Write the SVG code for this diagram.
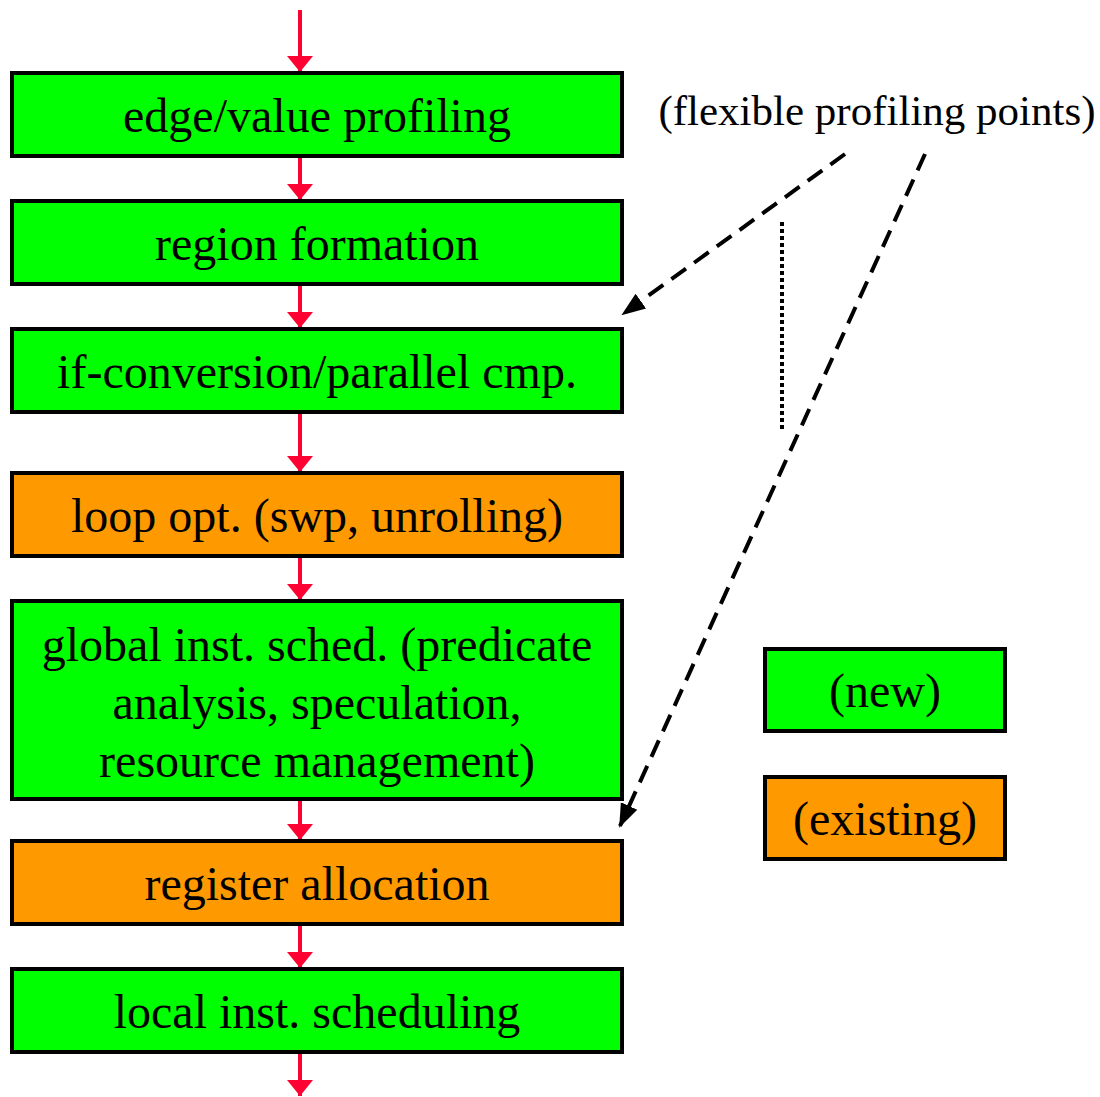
<svg xmlns="http://www.w3.org/2000/svg" width="1100" height="1097" viewBox="0 0 1100 1097">
  <defs>
    <marker id="redHead" markerWidth="16" markerHeight="26" refX="16" refY="13" orient="auto" markerUnits="userSpaceOnUse" viewBox="0 0 16 26">
      <path d="M0,0 L16,13 L0,26 Z" fill="#FF0033"/>
    </marker>
    <marker id="blackHead" markerWidth="24" markerHeight="24" refX="22" refY="12" orient="auto" markerUnits="userSpaceOnUse" viewBox="0 0 24 24">
      <path d="M0,3 L24,12 L0,21 Z" fill="#000"/>
    </marker>
  </defs>
  <style>
    .box { stroke: #000; stroke-width: 4; }
    .new { fill: #00FF00; }
    .old { fill: #FF9900; }
    .lbl { font-family: "Liberation Serif", "Times New Roman", serif; font-size: 48px; fill: #000; text-anchor: middle; }
    .flow { stroke: #FF0033; stroke-width: 4; fill: none; }
    .dash { stroke: #000; stroke-width: 4; stroke-dasharray: 18 10; fill: none; }
    .dot { stroke: #000; stroke-width: 4; stroke-dasharray: 4 3; fill: none; }
  </style>
  <rect width="1100" height="1097" fill="#fff"/>

  <!-- flow connectors -->
  <g id="connectors">
    <line class="flow" x1="300" y1="10" x2="300" y2="72" marker-end="url(#redHead)"/>
    <line class="flow" x1="300" y1="158" x2="300" y2="200" marker-end="url(#redHead)"/>
    <line class="flow" x1="300" y1="286" x2="300" y2="328" marker-end="url(#redHead)"/>
    <line class="flow" x1="300" y1="414" x2="300" y2="472" marker-end="url(#redHead)"/>
    <line class="flow" x1="300" y1="558" x2="300" y2="600" marker-end="url(#redHead)"/>
    <line class="flow" x1="300" y1="801" x2="300" y2="840" marker-end="url(#redHead)"/>
    <line class="flow" x1="300" y1="926" x2="300" y2="968" marker-end="url(#redHead)"/>
    <line class="flow" x1="300" y1="1054" x2="300" y2="1096" marker-end="url(#redHead)"/>
    <!-- profiling point pointers -->
    <line class="dash" x1="845" y1="154" x2="623" y2="314" marker-end="url(#blackHead)"/>
    <line class="dash" x1="925" y1="154" x2="620" y2="826" marker-end="url(#blackHead)"/>
    <line class="dot" x1="782" y1="222" x2="782" y2="430"/>
  </g>

  <g id="edge-value-profiling">
    <rect class="box new" x="12" y="73" width="610" height="83"/>
    <text class="lbl" x="317" y="132">edge/value profiling</text>
  </g>
  <g id="region-formation">
    <rect class="box new" x="12" y="201" width="610" height="83"/>
    <text class="lbl" x="317" y="260">region formation</text>
  </g>
  <g id="if-conversion">
    <rect class="box new" x="12" y="329" width="610" height="83"/>
    <text class="lbl" x="317" y="388">if-conversion/parallel cmp.</text>
  </g>
  <g id="loop-opt">
    <rect class="box old" x="12" y="473" width="610" height="83"/>
    <text class="lbl" x="317" y="532">loop opt. (swp, unrolling)</text>
  </g>
  <g id="global-sched">
    <rect class="box new" x="12" y="601" width="610" height="198"/>
    <text class="lbl" x="317" y="661">global inst. sched. (predicate</text>
    <text class="lbl" x="317" y="719">analysis, speculation,</text>
    <text class="lbl" x="317" y="777">resource management)</text>
  </g>
  <g id="register-allocation">
    <rect class="box old" x="12" y="841" width="610" height="83"/>
    <text class="lbl" x="317" y="900">register allocation</text>
  </g>
  <g id="local-sched">
    <rect class="box new" x="12" y="969" width="610" height="83"/>
    <text class="lbl" x="317" y="1028">local inst. scheduling</text>
  </g>

  <g id="profiling-note">
    <text class="lbl" x="877" y="125" style="font-size:43px">(flexible profiling points)</text>
  </g>

  <g id="legend-new">
    <rect class="box new" x="765" y="649" width="240" height="82"/>
    <text class="lbl" x="885" y="707">(new)</text>
  </g>
  <g id="legend-existing">
    <rect class="box old" x="765" y="777" width="240" height="82"/>
    <text class="lbl" x="885" y="835">(existing)</text>
  </g>
</svg>
